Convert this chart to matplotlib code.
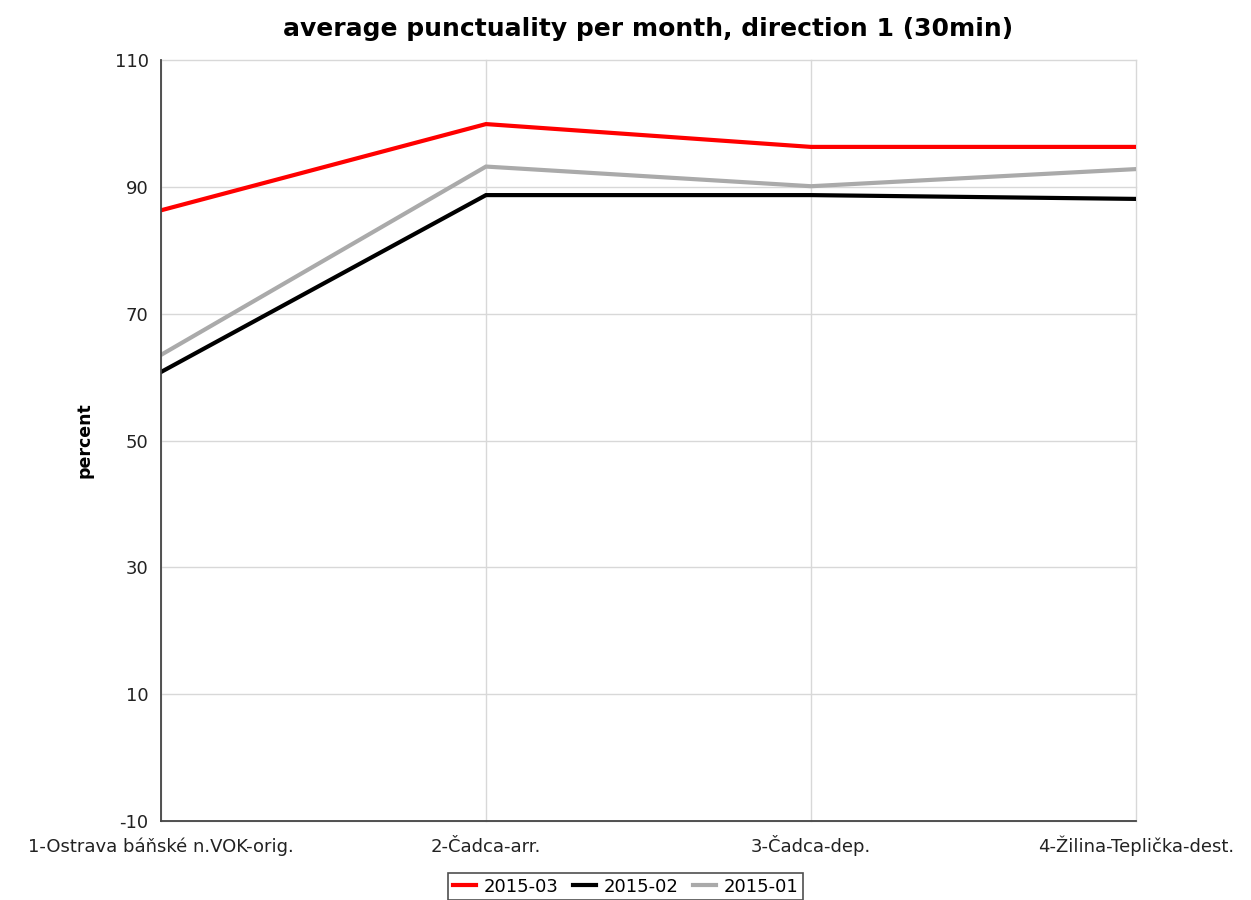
import matplotlib
matplotlib.use('Agg')
import matplotlib.pyplot as plt

stations = ['1-Ostrava báňské n.VOK-orig.', '2-Čadca-arr.', '3-Čadca-dep.', '4-Žilina-Teplička-dest.']
months = ['2015-03', '2015-02', '2015-01']
punct_03 = [86.3, 99.9, 96.3, 96.3]
punct_02 = [60.8, 88.7, 88.7, 88.1]
punct_01 = [63.5, 93.2, 90.1, 92.8]
colors = ['#ff0000', '#000000', '#aaaaaa']
yticks = [-10, 10, 30, 50, 70, 90, 110]

plt.rcParams['font.family'] = 'sans-serif'
plt.rcParams['font.sans-serif'] = ['DejaVu Sans']
plt.rcParams['axes.unicode_minus'] = False

fig = plt.figure(figsize=(12.51, 9), dpi=100)
ax = fig.add_axes([0.1287, 0.0878, 0.908 - 0.1287, 0.9333 - 0.0878])

x = list(range(len(stations)))
for vals, lab, col in zip([punct_03, punct_02, punct_01], months, colors):
    ax.plot(x, vals, color=col, lw=3, label=lab, solid_joinstyle='miter')

ax.set_xlim(0, len(stations) - 1)
ax.set_ylim(-10, 110)
ax.set_yticks(yticks)
ax.set_xticks(x)
ax.set_xticklabels(stations, va='baseline')
ax.tick_params(axis='both', length=0, labelsize=13, colors='#222222')
ax.tick_params(axis='x', pad=22)
ax.tick_params(axis='y', pad=9)
ax.grid(True, color='#d8d8d8', lw=1)
ax.set_axisbelow(True)
for gl in ax.get_xgridlines() + ax.get_ygridlines():
    gl.set_clip_on(False)
for s in ['top', 'right']:
    ax.spines[s].set_visible(False)
ax.spines['left'].set_color('#444444')
ax.spines['bottom'].set_color('#444444')
ax.spines['left'].set_linewidth(1.3)
ax.spines['bottom'].set_linewidth(1.3)

ax.set_ylabel('percent', fontsize=12.5, fontweight='bold', labelpad=15)
ax.set_title('average punctuality per month, direction 1 (30min)', fontsize=18, fontweight='bold', pad=17)

leg = fig.legend(loc='upper center', bbox_to_anchor=(0.5, 1 - 873 / 900), ncol=3, fontsize=13,
                 frameon=True, fancybox=False, edgecolor='#222222', handlelength=1.3,
                 handletextpad=0.4, columnspacing=0.8, borderpad=0.25, borderaxespad=0)
leg.get_frame().set_linewidth(1.2)

fig.savefig('out.png', dpi=100)
